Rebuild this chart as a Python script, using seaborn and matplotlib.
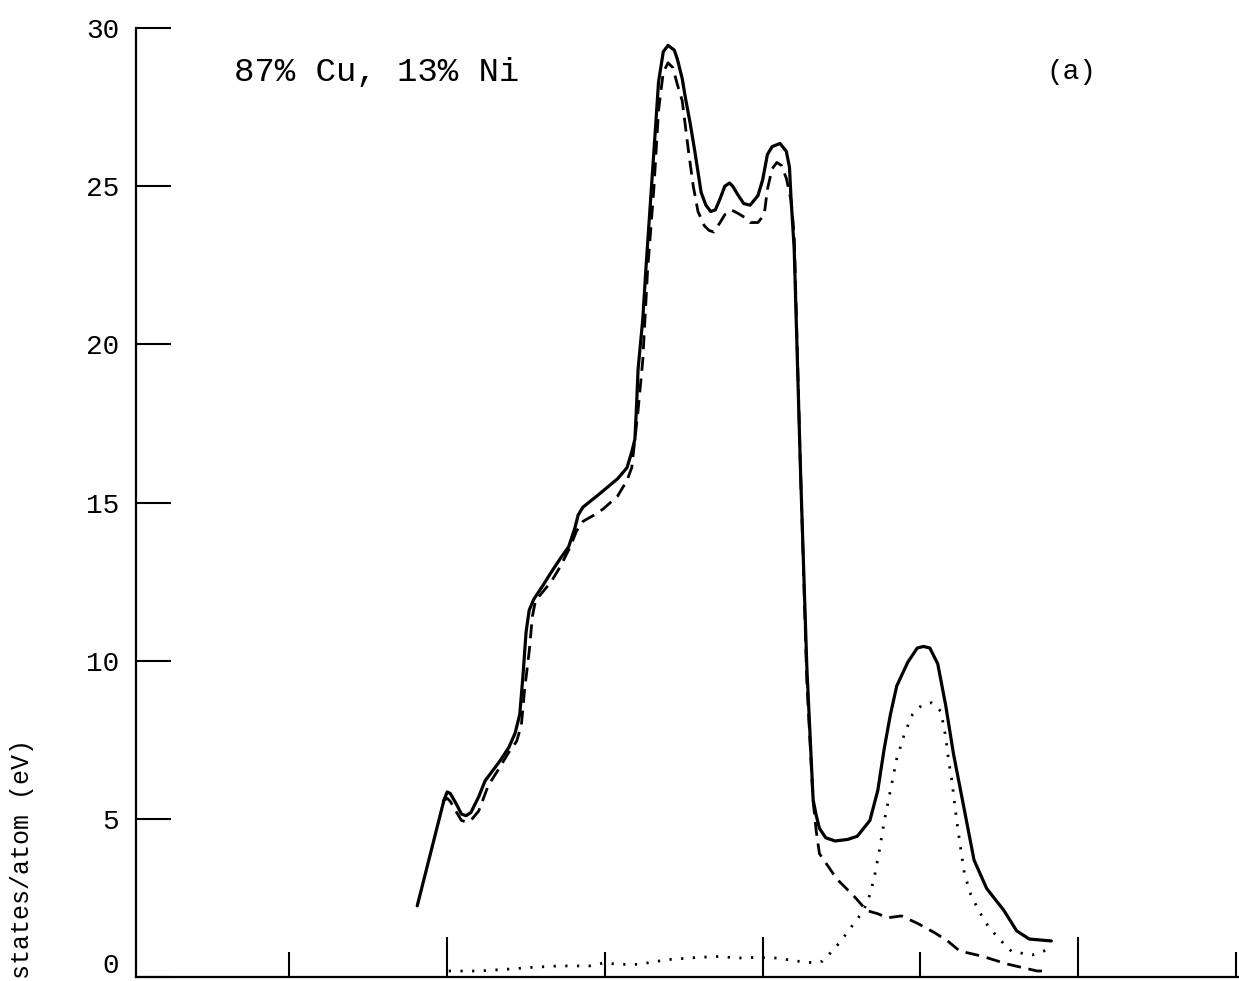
import matplotlib
matplotlib.use("Agg")
import matplotlib.pyplot as plt
import matplotlib.transforms as mtransforms
import seaborn as sns
import pandas as pd

# ---- data ----
total_x = [1.81, 1.98, 2.00, 2.02, 2.06, 2.09, 2.12, 2.15, 2.20, 2.24, 2.33, 2.39, 2.43, 2.46,
           2.48, 2.50, 2.52, 2.55, 2.61, 2.66, 2.72, 2.77, 2.81, 2.83, 2.86, 2.91, 2.96, 3.02,
           3.08, 3.14, 3.17, 3.19, 3.20, 3.21, 3.24, 3.26, 3.29, 3.32, 3.34, 3.37, 3.40, 3.44,
           3.46, 3.49, 3.51, 3.54, 3.57, 3.61, 3.64, 3.67, 3.70, 3.73, 3.76, 3.79, 3.81, 3.84,
           3.88, 3.92, 3.97, 4.00, 4.03, 4.06, 4.11, 4.15, 4.17, 4.18, 4.20, 4.24, 4.28, 4.32,
           4.34, 4.36, 4.40, 4.46, 4.54, 4.60, 4.64, 4.68, 4.73, 4.77, 4.81, 4.85, 4.92, 4.98,
           5.02, 5.06, 5.11, 5.16, 5.21, 5.28, 5.34, 5.42, 5.53, 5.61, 5.69, 5.83]
total_y = [2.25, 5.6, 5.85, 5.8, 5.45, 5.15, 5.1, 5.2, 5.7, 6.2, 6.8, 7.25, 7.7, 8.3,
           9.5, 10.9, 11.6, 11.95, 12.4, 12.8, 13.25, 13.6, 14.2, 14.6, 14.85, 15.05, 15.25, 15.5,
           15.75, 16.1, 16.6, 17.0, 18.0, 19.2, 20.8, 22.4, 24.6, 26.8, 28.3, 29.25, 29.45, 29.3,
           29.0, 28.4, 27.8, 27.0, 26.1, 24.8, 24.4, 24.2, 24.25, 24.6, 25.0, 25.1, 25.0, 24.75,
           24.45, 24.4, 24.7, 25.2, 26.0, 26.25, 26.35, 26.1, 25.6, 24.6, 23.0, 16.0, 9.8, 5.6,
           5.1, 4.7, 4.4, 4.3, 4.35, 4.45, 4.7, 4.95, 5.9, 7.2, 8.3, 9.2, 9.95, 10.4,
           10.45, 10.4, 9.9, 8.6, 7.05, 5.25, 3.7, 2.8, 2.1, 1.46, 1.2, 1.14]

cu_x = [1.97, 2.00, 2.02, 2.06, 2.09, 2.12, 2.15, 2.20, 2.26, 2.33, 2.39, 2.44, 2.47, 2.49,
        2.52, 2.54, 2.56, 2.61, 2.66, 2.72, 2.78, 2.82, 2.86, 2.93, 2.99, 3.08, 3.14, 3.17,
        3.19, 3.21, 3.24, 3.27, 3.31, 3.34, 3.37, 3.40, 3.43, 3.46, 3.49, 3.53, 3.56, 3.59,
        3.63, 3.66, 3.69, 3.73, 3.76, 3.80, 3.84, 3.89, 3.92, 3.97, 4.01, 4.03, 4.06, 4.09,
        4.12, 4.15, 4.18, 4.20, 4.24, 4.28, 4.32, 4.34, 4.36, 4.47, 4.58, 4.66, 4.73, 4.79,
        4.88, 4.98, 5.09, 5.17, 5.25, 5.39, 5.55, 5.74, 5.81]
cu_y = [5.55, 5.65, 5.55, 5.2, 4.95, 4.9, 4.95, 5.25, 6.05, 6.6, 7.1, 7.45, 7.95, 9.05,
        10.3, 11.4, 11.9, 12.2, 12.5, 13.0, 13.6, 14.1, 14.4, 14.6, 14.8, 15.2, 15.7, 16.1,
        17.0, 17.9, 19.5, 22.3, 24.9, 27.4, 28.6, 28.9, 28.75, 28.2, 27.7, 26.1, 25.0, 24.2,
        23.75, 23.6, 23.55, 23.85, 24.1, 24.25, 24.15, 24.0, 23.85, 23.85, 24.1, 24.9, 25.55, 25.75,
        25.65, 25.25, 24.55, 23.45, 16.0, 9.35, 5.55, 4.6, 3.9, 3.1, 2.55, 2.1, 2.0, 1.87,
        1.93, 1.7, 1.4, 1.15, 0.82, 0.66, 0.41, 0.19, 0.19]

ni_x = [2.01, 2.20, 2.39, 2.52, 2.71, 2.90, 3.00, 3.08, 3.21, 3.40, 3.59, 3.72, 3.84, 3.97,
        4.09, 4.22, 4.32, 4.38, 4.46, 4.52, 4.58, 4.64, 4.68, 4.71, 4.74, 4.77, 4.81, 4.85,
        4.90, 4.95, 5.01, 5.07, 5.13, 5.16, 5.18, 5.20, 5.22, 5.24, 5.26, 5.28, 5.32, 5.37,
        5.43, 5.50, 5.58, 5.71, 5.83]
ni_y = [0.19, 0.19, 0.25, 0.3, 0.35, 0.35, 0.45, 0.4, 0.4, 0.55, 0.62, 0.65, 0.6, 0.62,
        0.6, 0.5, 0.45, 0.5, 0.92, 1.3, 1.7, 2.1, 2.6, 3.2, 4.0, 4.9, 5.9, 6.9,
        7.7, 8.3, 8.6, 8.67, 8.4, 7.6, 6.8, 6.2, 5.35, 4.6, 3.9, 3.25, 2.6, 2.1,
        1.6, 1.2, 0.8, 0.7, 0.9]

y_ticks = [0, 5, 10, 15, 20, 25, 30]
y_tick_labels = ["0", "5", "10", "15", "20", "25", "30"]
x_major = [2, 4, 6]
x_minor = [1, 3, 5, 7]
title_text = "87% Cu, 13% Ni"
panel_text = "(a)"
ylabel_text = "states/atom (eV)"

# ---- plotting ----
sns.set_style("white")
plt.rcParams["font.family"] = ["Liberation Mono", "DejaVu Sans Mono"]

W, H = 1239, 981
fig = plt.figure(figsize=(W / 100, H / 100), dpi=100)
ax = fig.add_axes([136 / W, 1 - 977 / H, (W - 136) / W, (977 - 28) / H])

df_tot = pd.DataFrame({"x": total_x, "y": total_y})
df_cu = pd.DataFrame({"x": cu_x, "y": cu_y})
df_ni = pd.DataFrame({"x": ni_x, "y": ni_y})

sns.lineplot(data=df_tot, x="x", y="y", ax=ax, color="black", lw=2.3,
             estimator=None, sort=False, solid_capstyle="round", solid_joinstyle="round")
sns.lineplot(data=df_cu, x="x", y="y", ax=ax, color="black", lw=2.0,
             estimator=None, sort=False, dashes=False, linestyle=(0, (5, 2.8)))
sns.lineplot(data=df_ni, x="x", y="y", ax=ax, color="black", lw=2.0,
             estimator=None, sort=False, dashes=False, linestyle=(0, (0.8, 3.4)))

ax.set_xlim(0.027, 7.02)
ax.set_ylim(0, 30)
ax.set_xlabel("")
ax.set_ylabel("")

for s in ["top", "right"]:
    ax.spines[s].set_visible(False)
for s in ["left", "bottom"]:
    ax.spines[s].set_linewidth(1.6)
    ax.spines[s].set_color("black")

ax.set_yticks(y_ticks)
ax.set_yticklabels(y_tick_labels)
ax.tick_params(axis="y", which="major", left=True, direction="in", length=25, width=1.5,
               pad=12, labelsize=20, colors="black")
ax.set_xticks(x_major)
ax.set_xticks(x_minor, minor=True)
ax.set_xticklabels([])
ax.tick_params(axis="x", which="major", bottom=True, direction="in", length=29, width=1.5,
               labelbottom=False, colors="black")
ax.tick_params(axis="x", which="minor", bottom=True, direction="in", length=18, width=1.5,
               labelbottom=False, colors="black")

# keep the "0" label inside the figure
zero_lbl = ax.get_yticklabels()[0]
zero_lbl.set_transform(zero_lbl.get_transform() +
                       mtransforms.ScaledTranslation(0, 10 / 72, fig.dpi_scale_trans))

ax.text(0.65, 28.6, title_text, fontsize=24.5, va="center", ha="left", color="black")
ax.text(5.80, 28.6, panel_text, fontsize=20, va="center", ha="left", color="black")

fig.text(22 / W, 2 / H, ylabel_text, rotation=90, fontsize=18,
         ha="center", va="bottom", color="black")

fig.savefig("out.png", dpi=100)
